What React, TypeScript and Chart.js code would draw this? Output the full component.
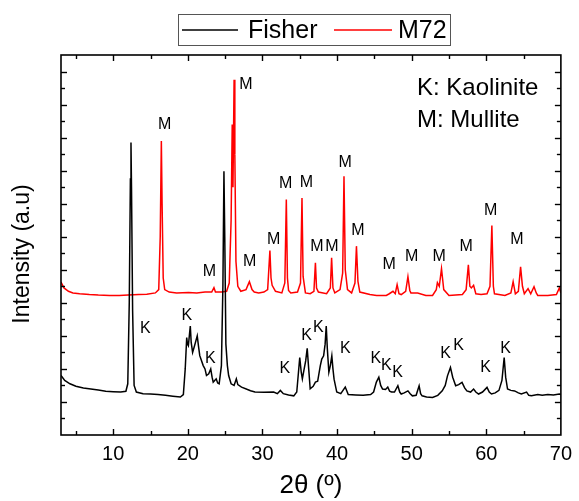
import React, { useEffect, useRef } from 'react';
import { Chart, registerables } from 'chart.js';

Chart.register(...registerables);

// ---- Data (2θ in degrees, intensity in arbitrary units) ----
const fisherX = [
  3.0, 3.5, 4.2, 5.0, 6.0, 7.0, 8.0, 9.0, 10.0, 11.0, 11.7, 11.95, 12.15, 12.3, 12.38, 12.45, 12.6, 12.8, 13.1,
  14.0, 15.0, 16.0, 17.0, 18.0, 19.0, 19.4, 19.65, 19.85, 19.95, 20.07, 20.2, 20.33, 20.45, 20.64, 20.9, 21.26,
  21.45, 21.6, 22.06, 22.3, 22.5, 22.8, 23.07, 23.25, 23.4, 23.6, 23.8, 24.0, 24.2, 24.5, 24.7, 24.84, 24.95,
  25.1, 25.3, 25.47, 25.8, 26.2, 26.5, 26.7, 27.2, 28.0, 28.4, 29.0, 30.2, 31.5, 32.0, 32.4, 32.8, 33.5, 34.2,
  34.6, 35.0, 35.2, 35.35, 35.55, 35.8, 36.0, 36.2, 36.4, 36.8, 37.1, 37.4, 37.75, 37.95, 38.2, 38.4, 38.55,
  38.7, 38.9, 39.1, 39.3, 39.45, 39.6, 39.96, 40.5, 41.1, 41.5, 42.5, 43.5, 44.5, 44.9, 45.27, 45.6, 45.85,
  46.1, 46.5, 46.8, 47.05, 47.3, 47.7, 48.15, 48.4, 48.6, 49.0, 49.5, 49.8, 50.1, 50.6, 51.0, 51.2, 51.4, 52.0,
  52.8, 53.5, 54.1, 54.5, 54.8, 55.2, 55.5, 55.9, 56.3, 56.75, 57.1, 57.4, 57.9, 58.3, 58.6, 58.97, 59.5, 60.1,
  60.4, 60.7, 61.2, 61.7, 62.1, 62.4, 62.6, 62.85, 63.3, 63.8, 64.3, 64.7, 65.4, 65.7, 66.05, 66.9, 67.5,
  68.25, 69.0, 69.8, 70.0,
];
const fisherY = [
  3.6, 3.3, 3.1, 2.95, 2.85, 2.78, 2.72, 2.65, 2.62, 2.6, 2.65, 3.1, 8.0, 15.5, 17.7, 15.0, 7.5, 3.0, 2.6,
  2.5, 2.48, 2.45, 2.4, 2.35, 2.3, 2.45, 4.0, 5.9, 5.5, 5.4, 6.0, 6.6, 5.6, 5.0, 5.4, 6.0,
  5.3, 4.8, 4.2, 4.0, 3.6, 3.7, 4.0, 3.5, 3.2, 3.3, 3.4, 3.15, 3.1, 4.2, 9.0, 15.96, 12.0,
  5.5, 4.2, 3.6, 3.1, 3.0, 3.4, 3.05, 2.9, 2.75, 2.68, 2.6, 2.58, 2.6, 2.5, 2.7, 2.5, 2.42, 2.37,
  2.6, 4.69, 3.8, 3.4, 3.9, 4.5, 5.25, 4.0, 2.8, 2.95, 3.2, 3.25, 4.19, 4.6, 4.79, 5.5, 6.6,
  5.2, 3.8, 4.2, 4.79, 4.0, 3.38, 2.6, 2.5, 2.9, 2.45, 2.42, 2.4, 2.45, 2.6, 3.2, 3.5, 3.0,
  2.78, 2.75, 2.9, 2.65, 2.6, 2.6, 2.98, 2.6, 2.48, 2.55, 2.67, 2.5, 2.37, 2.4, 2.98, 2.5, 2.37, 2.3,
  2.27, 2.4, 2.67, 3.0, 3.58, 4.09, 3.5, 2.98, 3.05, 3.18, 2.85, 2.67, 2.6, 2.78, 2.6, 2.48, 2.6, 2.88,
  2.6, 2.48, 2.55, 2.7, 3.3, 4.69, 3.5, 2.78, 2.7, 2.67, 2.55, 2.48, 2.6, 2.4, 2.37, 2.45, 2.4,
  2.45, 2.42, 2.48, 2.45,
];

const m72X = [
  3.0, 3.4, 4.0, 4.6, 5.5, 6.8, 8.0, 9.5, 10.8, 12.0, 13.4, 14.5, 15.65, 16.1, 16.3, 16.45, 16.55, 16.7, 16.9,
  17.5, 18.5, 20.1, 21.2, 22.3, 23.2, 23.5, 23.7, 24.5, 25.2, 25.55, 25.8, 25.95, 26.05, 26.2, 26.3, 26.45,
  26.7, 27.1, 27.8, 28.25, 28.6, 28.9, 29.5, 30.2, 30.7, 31.0, 31.15, 31.3, 31.75, 32.6, 33.0, 33.2, 33.35,
  33.5, 33.8, 34.7, 35.1, 35.3, 35.45, 35.76, 36.4, 36.9, 37.1, 37.25, 37.5, 38.6, 39.1, 39.27, 39.45, 39.7,
  40.4, 40.75, 40.93, 41.1, 41.4, 41.95, 42.4, 42.6, 42.8, 43.05, 44.4, 45.3, 46.6, 47.0, 47.5, 47.8, 48.05,
  48.3, 48.6, 49.2, 49.5, 49.75, 49.9, 50.8, 51.9, 52.8, 53.3, 53.45, 53.7, 54.0, 54.3, 55.0, 56.8, 57.3,
  57.6, 57.8, 58.0, 58.3, 58.6, 59.3, 60.1, 60.5, 60.75, 60.95, 61.1, 62.5, 63.3, 63.6, 63.9, 64.3, 64.6,
  64.85, 65.1, 65.6, 65.96, 66.4, 66.7, 66.9, 68.25, 69.4, 69.8, 70.0,
];
const m72Y = [
  9.26, 8.9, 8.7, 8.6, 8.55, 8.5, 8.47, 8.45, 8.45, 8.47, 8.5, 8.52, 8.6, 8.8, 12.0, 17.8, 14.0, 9.5, 8.8,
  8.65, 8.6, 8.62, 8.6, 8.65, 8.65, 8.92, 8.65, 8.65, 8.7, 9.2, 13.0, 18.8, 15.0, 21.5, 17.0, 10.5,
  9.0, 8.7, 8.8, 9.28, 8.8, 8.65, 8.6, 8.65, 8.8, 11.17, 9.5, 9.06, 8.7, 8.6, 9.2, 14.25, 9.5,
  8.75, 8.6, 8.65, 9.2, 14.35, 9.6, 8.6, 8.55, 8.7, 10.43, 8.9, 8.65, 8.55, 8.9, 10.73, 8.9, 8.6,
  8.8, 9.8, 15.66, 10.0, 8.8, 8.6, 9.2, 11.43, 9.3, 8.65, 8.5, 8.45, 8.45, 8.55, 8.7, 8.55, 9.1,
  8.55, 8.5, 8.7, 9.58, 8.75, 8.6, 8.6, 8.45, 8.45, 8.8, 9.22, 9.0, 10.07, 8.8, 8.45, 8.5, 8.8,
  10.3, 9.0, 8.9, 9.06, 8.55, 8.5, 8.55, 9.0, 12.68, 9.0, 8.55, 8.45, 8.6, 9.28, 8.55, 8.7, 10.18,
  9.0, 8.55, 8.86, 8.55, 8.98, 8.6, 8.45, 8.45, 8.5, 8.9, 8.6,
];

const xTicks = [10, 20, 30, 40, 50, 60, 70];

// Peak annotation labels (positions in data units)
const kLabelX = [14.3, 19.85, 23.0, 33.0, 35.9, 37.5, 41.1, 45.2, 46.6, 48.1, 54.55, 56.3, 59.9, 62.6];
const kLabelY = [6.44, 7.2, 4.63, 3.99, 6.0, 6.5, 5.2, 4.6, 4.2, 3.8, 4.9, 5.4, 4.1, 5.2];
const mLabelX = [16.9, 27.8, 22.9, 28.3, 31.5, 33.1, 35.9, 37.3, 39.3, 41.1, 42.8, 47.0, 50.0, 53.7, 57.3, 60.6, 64.1];
const mLabelY = [18.8, 21.2, 9.9, 10.5, 11.8, 15.2, 15.3, 11.43, 11.43, 16.5, 12.4, 10.3, 10.8, 10.8, 11.4, 13.6, 11.8];

const seriesNames = ['Fisher', 'M72'];
const seriesColors = ['#000000', '#ff0000'];
const noteLines = ['K: Kaolinite', 'M: Mullite'];
const yTitle = 'Intensity (a.u)';

const FONT = '"Liberation Sans", Arial, Helvetica, sans-serif';

const overlayPlugin = {
  id: 'overlay',
  afterDatasetsDraw(chart: any) {
    const { ctx, chartArea: a, scales } = chart;
    const x = scales.x;
    const y = scales.y;
    ctx.save();
    const line = (x1: number, y1: number, x2: number, y2: number) => {
      ctx.beginPath();
      ctx.moveTo(x1, y1);
      ctx.lineTo(x2, y2);
      ctx.stroke();
    };
    // frame
    ctx.strokeStyle = '#000';
    ctx.lineWidth = 1.6;
    ctx.strokeRect(a.left, a.top, a.right - a.left, a.bottom - a.top);
    // x ticks (inward, bottom + top)
    ctx.lineWidth = 1.4;
    for (let v = 5; v < 70; v += 5) {
      const px = Math.round(x.getPixelForValue(v)) + 0.5;
      const len = v % 10 === 0 ? 6 : 4;
      line(px, a.bottom, px, a.bottom - len);
      line(px, a.top, px, a.top + len);
    }
    // y ticks (inward, left + right)
    for (let v = 1; v <= 22; v++) {
      const py = Math.round(y.getPixelForValue(v)) + 0.5;
      const len = v % 2 === 0 ? 6 : 4;
      line(a.left, py, a.left + len, py);
      line(a.right, py, a.right - len, py);
    }
    // peak labels
    ctx.fillStyle = '#000';
    ctx.font = `16px ${FONT}`;
    ctx.textAlign = 'center';
    ctx.textBaseline = 'middle';
    kLabelX.forEach((v, i) => ctx.fillText('K', x.getPixelForValue(v), y.getPixelForValue(kLabelY[i])));
    mLabelX.forEach((v, i) => ctx.fillText('M', x.getPixelForValue(v), y.getPixelForValue(mLabelY[i])));
    // note
    ctx.font = `24px ${FONT}`;
    ctx.textAlign = 'left';
    ctx.fillText(noteLines[0], 417, 88);
    ctx.fillText(noteLines[1], 417, 120);
    // y axis title
    ctx.save();
    ctx.translate(23, 254);
    ctx.rotate(-Math.PI / 2);
    ctx.textAlign = 'center';
    ctx.font = `23px ${FONT}`;
    ctx.fillText(yTitle, 0, 0);
    ctx.restore();
    // legend
    ctx.strokeStyle = '#555';
    ctx.lineWidth = 1;
    ctx.strokeRect(178.5, 14.5, 272, 31);
    ctx.lineWidth = 1.6;
    ctx.strokeStyle = seriesColors[0];
    line(182, 30, 238, 30);
    ctx.strokeStyle = seriesColors[1];
    line(334, 30, 392, 30);
    ctx.font = `25px ${FONT}`;
    ctx.fillStyle = '#000';
    ctx.fillText(seriesNames[0], 248, 31);
    ctx.fillText(seriesNames[1], 398, 31);
    ctx.restore();
  },
};

export default function App() {
  const ref = useRef<HTMLCanvasElement | null>(null);
  useEffect(() => {
    if (!ref.current) return;
    const chart = new Chart(ref.current, {
      type: 'line',
      data: {
        datasets: [
          {
            label: seriesNames[0],
            data: fisherX.map((v, i) => ({ x: v, y: fisherY[i] })),
            borderColor: seriesColors[0],
            borderWidth: 1.5,
            pointRadius: 0,
            tension: 0,
          },
          {
            label: seriesNames[1],
            data: m72X.map((v, i) => ({ x: v, y: m72Y[i] })),
            borderColor: seriesColors[1],
            borderWidth: 1.5,
            pointRadius: 0,
            tension: 0,
          },
        ],
      },
      options: {
        responsive: false,
        animation: false,
        devicePixelRatio: 1,
        layout: { padding: { top: 55, right: 12, left: 0, bottom: 0 } },
        plugins: { legend: { display: false }, tooltip: { enabled: false } },
        scales: {
          x: {
            type: 'linear',
            min: 3,
            max: 70,
            afterBuildTicks: (s: any) => {
              s.ticks = xTicks.map((v) => ({ value: v }));
            },
            afterFit: (s: any) => {
              s.height = 66;
            },
            grid: { display: false, drawTicks: false },
            border: { display: false },
            ticks: { color: '#000', font: { family: FONT, size: 20 }, padding: 7, maxRotation: 0, autoSkip: false },
            title: { display: true, text: '2θ (º)', color: '#000', font: { family: FONT, size: 26 }, padding: { top: 0, bottom: 0 } },
          },
          y: {
            type: 'linear',
            min: 0,
            max: 23,
            afterFit: (s: any) => {
              s.width = 61;
            },
            grid: { display: false, drawTicks: false },
            border: { display: false },
            ticks: { display: false },
            title: { display: false },
          },
        },
      },
      plugins: [overlayPlugin],
    } as any);
    return () => chart.destroy();
  }, []);
  return (
    <div style={{ position: 'fixed', left: 0, top: 0, width: 579, height: 501, background: '#fff' }}>
      <canvas ref={ref} width={579} height={501} style={{ width: 579, height: 501 }} />
    </div>
  );
}
